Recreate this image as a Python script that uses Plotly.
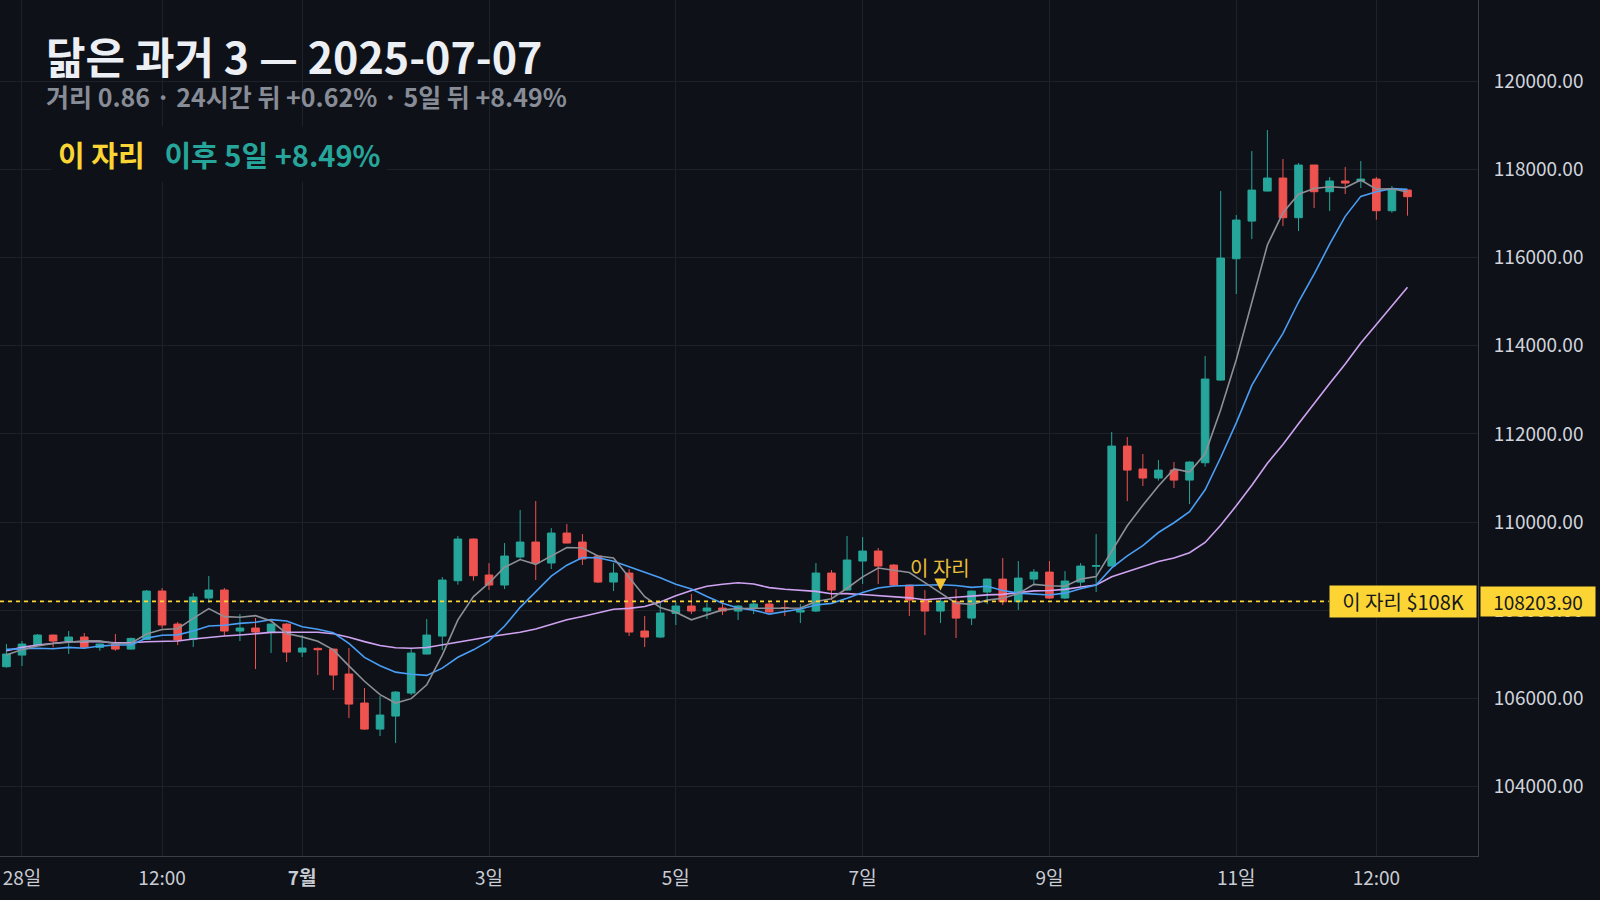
import pandas as pd
import plotly.graph_objects as go

# 4시간봉, 2025-06-27 20:00 부터 91개
times = pd.date_range("2025-06-27 20:00", periods=91, freq="4h")

opens = [106722, 106986, 107213, 107440, 107304, 107395, 107160, 107236, 107122, 107342,
         108438, 107689, 107342, 108279, 108461, 107531, 107599, 107508, 107689, 107054,
         107137, 107122, 106556, 105898, 105308, 105603, 106125, 107009, 107417, 108672,
         109617, 108801, 108574, 109209, 109549, 109073, 109753, 109549, 109231, 108642,
         108846, 107531, 107395, 107931, 108098, 107984, 108052, 107984, 108052, 108143,
         108060, 107961, 107984, 108846, 108461, 109118, 109345, 109027, 108573, 108233,
         107984, 108196, 107825, 108415, 108709, 108196, 108709, 108868, 108279, 108641,
         109000, 109004, 111725, 111204, 111000, 111181, 110954, 111347, 113222, 115973,
         116827, 117508, 117803, 116903, 118098, 117493, 117735, 117735, 117780, 117062,
         117531]
highs = [107236, 107304, 107463, 107450, 107531, 107485, 107250, 107463, 107380, 108461,
         108506, 107735, 108393, 108778, 108506, 107916, 107826, 107700, 107712, 107440,
         107160, 107130, 107145, 106238, 106057, 106170, 107145, 107803, 108755, 109685,
         109630, 109073, 109526, 110275, 110479, 109866, 109957, 109730, 109240, 109073,
         108937, 107871, 108188, 108188, 108370, 108166, 108143, 108120, 108188, 108188,
         108219, 108143, 109073, 108914, 109685, 109662, 109413, 109050, 108580, 108460,
         108256, 108483, 108450, 108720, 109186, 109118, 108936, 109118, 108891, 109072,
         109730, 112043, 111930, 111544, 111408, 111363, 111380, 113766, 117508, 116964,
         118415, 118891, 118234, 118143, 118100, 117826, 118052, 118188, 117826, 117621,
         117540]
lows = [106700, 106737, 107191, 107160, 107009, 107140, 107085, 107085, 107110, 107327,
        107591, 107213, 107168, 108173, 107417, 107304, 106669, 107032, 106828, 106941,
        106533, 106193, 105558, 105290, 105150, 104991, 106079, 107000, 107100, 108582,
        108672, 108461, 108483, 109170, 108687, 108937, 109520, 109028, 108620, 108438,
        107417, 107168, 107372, 107667, 107916, 107803, 107894, 107780, 107916, 107950,
        107871, 107712, 107961, 108234, 108445, 108597, 108597, 108535, 107870, 107440,
        107712, 107372, 107666, 108142, 108120, 108007, 108596, 108256, 108256, 108551,
        108415, 109000, 110478, 110818, 110940, 110773, 110410, 111257, 113207, 115172,
        116419, 117500, 116714, 116601, 117122, 117055, 117440, 117576, 116858, 117017,
        116949]
closes = [107009, 107236, 107440, 107304, 107395, 107160, 107236, 107122, 107364, 108438,
          107667, 107327, 108302, 108461, 107531, 107599, 107508, 107689, 107054, 107145,
          107107, 106533, 105875, 105308, 105626, 106147, 107032, 107440, 108687, 109617,
          108786, 108574, 109231, 109549, 109073, 109753, 109526, 109164, 108642, 108846,
          107508, 107395, 107939, 108098, 107984, 108052, 107984, 108098, 108143, 107961,
          108052, 108007, 108846, 108461, 109141, 109345, 109005, 108573, 108233, 107984,
          108203.9, 107825, 108437, 108709, 108196, 108732, 108868, 108279, 108664, 109004,
          109015, 111725, 111181, 111000, 111181, 110954, 111363, 113245, 115988, 116850,
          117530, 117803, 116903, 118098, 117493, 117735, 117689, 117780, 117062, 117531,
          117380]

# 이동평균선
ma_fast = [106987, 107110, 107190, 107250, 107277, 107307, 107307, 107243, 107255, 107464,
           107565, 107584, 107820, 108039, 107858, 107844, 107880, 107758, 107476, 107399,
           107299, 107104, 106741, 106392, 106088, 105898, 105998, 106311, 106986, 107785,
           108312, 108621, 108979, 109151, 109043, 109236, 109426, 109413, 109232, 109186,
           108737, 108311, 108066, 107957, 107785, 107894, 108011, 108043, 108052, 108048,
           108048, 108052, 108202, 108265, 108501, 108760, 108960, 108905, 108859, 108628,
           108400, 108164, 108137, 108232, 108274, 108380, 108588, 108557, 108548, 108709,
           108766, 109337, 109918, 110385, 110820, 111208, 111136, 111550, 112547, 113681,
           114997, 116285, 117015, 117437, 117566, 117606, 117584, 117759, 117552, 117559,
           117488]
ma_mid = [107115, 107130, 107140, 107130, 107160, 107140, 107190, 107215, 107215, 107370,
          107436, 107445, 107532, 107647, 107661, 107705, 107732, 107789, 107758, 107628,
          107572, 107492, 107250, 106934, 106744, 106599, 106551, 106526, 106689, 106937,
          107105, 107309, 107645, 108069, 108414, 108774, 109024, 109196, 109192, 109114,
          108987, 108869, 108740, 108594, 108486, 108315, 108161, 108055, 108005, 107916,
          107971, 108032, 108123, 108159, 108275, 108404, 108506, 108553, 108562, 108565,
          108580, 108562, 108521, 108546, 108451, 108390, 108376, 108347, 108390, 108492,
          108573, 108963, 109237, 109466, 109765, 109987, 110237, 110734, 111466, 112251,
          113102, 113710, 114282, 114992, 115623, 116302, 116934, 117387, 117494, 117563,
          117547]
ma_slow = [107085, 107160, 107213, 107251, 107289, 107289, 107289, 107266, 107266, 107289,
           107289, 107304, 107349, 107387, 107417, 107440, 107478, 107500, 107505, 107499,
           107504, 107469, 107391, 107291, 107202, 107152, 107141, 107157, 107223, 107282,
           107338, 107401, 107447, 107502, 107579, 107686, 107787, 107861, 107940, 108025,
           108046, 108089, 108192, 108332, 108450, 108545, 108592, 108625, 108598, 108515,
           108479, 108450, 108431, 108377, 108380, 108360, 108334, 108304, 108284, 108240,
           108275, 108297, 108322, 108352, 108363, 108397, 108441, 108450, 108476, 108528,
           108576, 108762, 108879, 109006, 109108, 109188, 109306, 109540, 109928, 110371,
           110838, 111337, 111760, 112229, 112694, 113144, 113585, 114060, 114480, 114907,
           115325]

mark_idx = 60
mark_price = 108203.90

x_tickvals = ["2025-06-28", "2025-06-29 12:00", "2025-07-01", "2025-07-03", "2025-07-05",
              "2025-07-07", "2025-07-09", "2025-07-11", "2025-07-12 12:00"]
x_ticktext = ["28일", "12:00", "<b>7월</b>", "3일", "5일", "7일", "9일", "11일", "12:00"]
y_tickvals = [104000, 106000, 108000, 110000, 112000, 114000, 116000, 118000, 120000]

BG = "#0e1118"
GRID = "#1d212a"
UP = "#26a69a"
DOWN = "#ef5350"
YEL = "#fcd535"
FONT = "Noto Sans CJK KR"

fig = go.Figure()

fig.add_trace(go.Candlestick(
    x=times, open=opens, high=highs, low=lows, close=closes,
    increasing=dict(line=dict(color=UP, width=1), fillcolor=UP),
    decreasing=dict(line=dict(color=DOWN, width=1), fillcolor=DOWN),
    whiskerwidth=0, showlegend=False, hoverinfo="skip"
))

for vals, col in [(ma_slow, "#d0a3f2"), (ma_mid, "#4a9ef5"), (ma_fast, "#8d9097")]:
    fig.add_trace(go.Scatter(x=times, y=vals, mode="lines",
                             line=dict(color=col, width=1.6),
                             showlegend=False, hoverinfo="skip"))

# 이 자리 표시
fig.add_trace(go.Scatter(x=[times[mark_idx]], y=[108450], mode="markers",
                         marker=dict(symbol="arrow-down", size=12, color="#f2c230"),
                         showlegend=False, hoverinfo="skip"))
fig.add_annotation(x=times[mark_idx], y=108980, text="이 자리", showarrow=False,
                   yanchor="middle",
                   font=dict(family=FONT, size=20, color="#e9be3a"))

# 기준 가격 점선
fig.add_shape(type="line", xref="paper", x0=0, x1=0.899, y0=mark_price, y1=mark_price,
              line=dict(color=YEL, width=1.6, dash="4px,4px"), layer="above")
fig.add_annotation(xref="paper", x=0.9993, xanchor="right", y=mark_price, yanchor="middle",
                   text="이 자리 $108K", showarrow=False, bgcolor=YEL, borderpad=1,
                   width=144, font=dict(family=FONT, size=20, color="#16181d"))
fig.add_annotation(xref="paper", x=1.0014, xanchor="left", y=mark_price, yanchor="middle",
                   text="108203.90", showarrow=False, bgcolor=YEL, borderpad=1,
                   width=112, font=dict(family=FONT, size=19, color="#16181d"))

# 제목 + 부제 (한 블록)
fig.add_annotation(xref="paper", yref="paper", x=0.03, y=1 - 22 / 856,
                   xanchor="left", yanchor="top", align="left",
                   text="<span style='font-size:43px;color:#eceff4'><b>닮은 과거 3 — 2025-07-07</b></span>"
                        "<br><b>거리 0.86 · 24시간 뒤 +0.62% · 5일 뒤 +8.49%</b>",
                   showarrow=False,
                   font=dict(family=FONT, size=25, color="#878c96"))
fig.add_annotation(xref="paper", yref="paper", x=0.0345, y=1 - 154 / 856,
                   xanchor="left", yanchor="middle",
                   text=f"<b><span style='color:{YEL}'>이 자리</span>   "
                        f"<span style='color:{UP}'>이후 5일 +8.49%</span></b>",
                   showarrow=False, bgcolor=BG, borderpad=6,
                   font=dict(family=FONT, size=29, color=UP))

fig.update_layout(
    width=1600, height=900,
    margin=dict(l=0, r=122, t=0, b=44),
    paper_bgcolor=BG, plot_bgcolor=BG,
    font=dict(family=FONT, color="#c9ccd3"),
    xaxis=dict(
        type="date", range=["2025-06-27 18:21", "2025-07-13 14:07"],
        tickvals=x_tickvals, ticktext=x_ticktext,
        tickfont=dict(size=19, color="#c9ccd3"),
        showgrid=True, gridcolor=GRID, gridwidth=1,
        showline=True, linecolor="#3a3e48", linewidth=1,
        zeroline=False, rangeslider=dict(visible=False),
        ticks="outside", ticklen=5, tickcolor=BG,
    ),
    yaxis=dict(
        side="right", range=[102430, 121840],
        tickvals=y_tickvals, tickformat=".2f",
        tickfont=dict(size=19, color="#d1d4dc"),
        showgrid=True, gridcolor=GRID, gridwidth=1,
        showline=True, linecolor="#3a3e48", linewidth=1,
        zeroline=False, ticks="outside", ticklen=11, tickcolor=BG,
    ),
)

fig.write_html("out.html", config={"displayModeBar": False},
               post_script="document.body.style.margin='0';")
